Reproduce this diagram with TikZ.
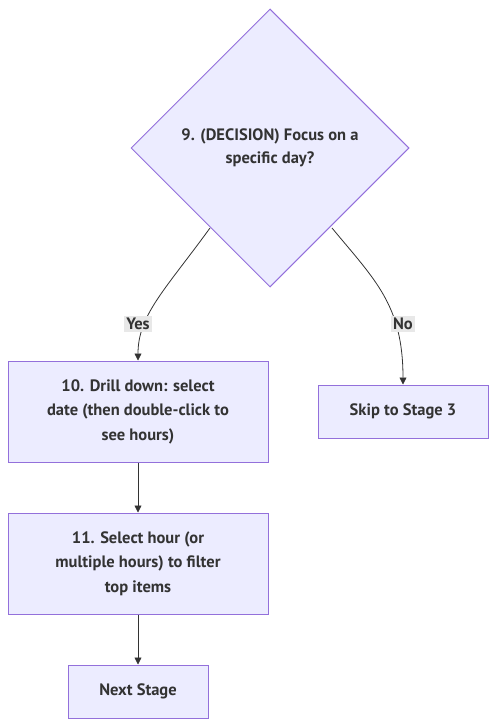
\documentclass[tikz,border=0pt]{standalone}
\usepackage{fontspec}
\setmainfont{PT Sans}
\usetikzlibrary{shapes.geometric,arrows.meta}
\definecolor{boxfill}{HTML}{ECECFF}
\definecolor{boxline}{HTML}{9370DB}
\definecolor{inkline}{HTML}{333333}
\definecolor{tagfill}{HTML}{E8E8E8}
\tikzset{
	stagebox/.style={draw=boxline, fill=boxfill, line width=1pt, align=center, text=inkline, inner sep=0pt, font=\bfseries\fontsize{16.5}{24.5}\selectfont},
	choice/.style={diamond, aspect=1, draw=boxline, fill=boxfill, line width=1pt, align=center, text=inkline, inner sep=0pt, minimum width=278pt, minimum height=278pt, font=\bfseries\fontsize{16.5}{23.5}\selectfont},
	link/.style={draw=inkline, line width=0.8pt, -{Triangle[length=7pt,width=7pt]}},
	tag/.style={fill=tagfill, text=inkline, inner sep=2pt, font=\bfseries\fontsize{16.5}{18}\selectfont}
}
\begin{document}
\begin{tikzpicture}[x=1pt,y=-1pt]
	\useasboundingbox (0,0) rectangle (500,725);

	\node[choice] (q9) at (270,148) {9. (DECISION) Focus on a\\specific day?};
	\node[stagebox, minimum width=260pt, minimum height=101pt] (b10) at (138,411.5) {10. Drill down: select\\date (then double-click to\\see hours)};
	\node[stagebox, minimum width=170pt, minimum height=53pt] (skip) at (403,411.5) {Skip to Stage 3};
	\node[stagebox, minimum width=260pt, minimum height=101pt] (b11) at (138,563.5) {11. Select hour (or\\multiple hours) to filter\\top items};
	\node[stagebox, minimum width=140pt, minimum height=53pt] (next) at (138,691.5) {Next Stage};

	\coordinate (q9yes) at (210,228);
	\coordinate (q9no) at (332,228);

	\draw[link] (q9yes) .. controls (165,290) and (138,315) .. (b10.north);
	\draw[link] (q9no) .. controls (375,280) and (403,305) .. (skip.north);
	\foreach \a/\b in {b10/b11, b11/next}
	{
		\draw[link] (\a.south) -- (\b.north);
	}

	\node[tag] (yes) at (138,324) {Yes};
	\node[tag] (no) at (403,324) {No};

\end{tikzpicture}
\end{document}
